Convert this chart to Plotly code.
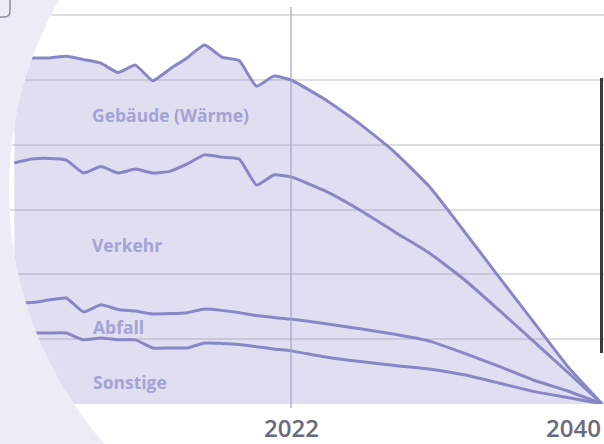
import numpy as np
import plotly.graph_objects as go

# Jahre: Ist-Werte bis 2022, danach Zielpfad bis 2040
years = list(range(2006, 2023)) + [2024, 2026, 2028, 2030, 2032, 2034, 2036, 2038, 2040]

# Emissionen je Sektor (gestapelt, von unten nach oben)
sonstige = [21.9, 21.9, 21.9, 21.9, 19.8, 20.4, 19.8, 19.8, 17.3, 17.3, 17.3, 18.8, 18.7, 18.4, 17.7, 17.0, 16.4,
            14.5, 13.1, 11.9, 10.8, 9.0, 6.5, 3.9, 2.0, 0.0]
abfall = [9.3, 9.4, 10.2, 10.8, 8.6, 10.2, 9.4, 8.9, 10.5, 10.6, 10.9, 10.5, 10.2, 9.8, 9.6, 9.7, 9.8,
          10.3, 10.1, 9.6, 8.6, 6.7, 5.2, 3.5, 2.0, 0.0]
verkehr = [43.2, 44.3, 43.7, 42.6, 42.9, 42.7, 42.1, 43.8, 43.5, 43.9, 45.9, 47.6, 47.3, 47.4, 40.3, 44.0, 43.9,
           40.9, 36.6, 31.6, 27.2, 22.8, 17.4, 12.1, 5.8, 0.0]
gebaeude = [32.1, 31.2, 31.0, 32.0, 35.0, 31.9, 31.0, 32.1, 28.5, 31.6, 32.8, 33.9, 30.9, 30.4, 30.5, 30.5, 29.9,
            28.2, 26.6, 24.6, 20.5, 14.9, 10.3, 6.0, 1.8, 0.0]

sectors = ["Sonstige", "Abfall", "Verkehr", "Gebäude (Wärme)"]
series = [sonstige, abfall, verkehr, gebaeude]

tick_years = [2022, 2040]
tick_labels = ["2022", "2040"]
marker_year = 2022

LINE = "#8787c6"
FILL = "rgba(140,140,205,0.28)"
LABEL = "#a3a3d5"
BG_OUT = "#ececf6"

W, H = 604, 444
M_B = 40
PLOT_H = H - M_B
X_RANGE = [2005.17, 2040.10]
Y_RANGE = [0, 124.7]

fig = go.Figure()
for name, vals in zip(sectors, series):
    fig.add_trace(go.Scatter(
        x=years, y=vals, name=name, mode="lines",
        stackgroup="emissionen",
        line=dict(color=LINE, width=3, shape="spline", smoothing=0.45),
        fillcolor=FILL,
        showlegend=False,
    ))

# Sektor-Beschriftungen innerhalb der Flächen
label_pos = [(2010.45, 6.8, "Sonstige"), (2010.45, 23.8, "Abfall"),
             (2010.4, 49.1, "Verkehr"), (2010.35, 89.2, "Gebäude (Wärme)")]
for lx, ly, txt in label_pos:
    fig.add_annotation(x=lx, y=ly, text=txt, showarrow=False, xanchor="left", yanchor="middle",
                       font=dict(family="Open Sans", size=17.5, color=LABEL, weight=700))

# Jahreszahlen unter der Achse
for ty, tl in zip(tick_years, tick_labels):
    fig.add_annotation(x=ty, y=0, yref="y", text=tl, showarrow=False,
                       xanchor="right" if ty == tick_years[-1] else "center",
                       yanchor="middle", yshift=-23, borderpad=0,
                       font=dict(family="Open Sans", size=24, color="#6a6a78", weight=600))

# Markierung des aktuellen Jahres
fig.add_shape(type="line", xref="x", yref="paper", x0=marker_year, x1=marker_year,
              y0=-0.01, y1=(PLOT_H - 7) / PLOT_H, line=dict(color="#a2a2c8", width=1.2), layer="above")


def to_paper(px, py):
    return px / W, (PLOT_H - py) / PLOT_H


# Hintergrund außerhalb des großen Kreises
cx, cy, r = 394.0, 190.0, 385.0
ys = np.linspace(-6, H + 6, 120)
xs = cx - np.sqrt(r ** 2 - (ys - cy) ** 2)
pts = [to_paper(-6, -6)] + [to_paper(x, y) for x, y in zip(xs, ys)] + [to_paper(-6, H + 6)]
path = "M " + " L ".join(f"{x:.5f},{y:.5f}" for x, y in pts) + " Z"
fig.add_shape(type="path", xref="paper", yref="paper", path=path,
              fillcolor=BG_OUT, line=dict(width=0), layer="above")

# Ecke eines abgerundeten Rahmens oben links
p0 = to_paper(-2, 17)
p1 = to_paper(4, 17)
c1 = to_paper(10, 17)
p2 = to_paper(10, 11)
p3 = to_paper(10, -2)
corner = (f"M {p0[0]:.5f},{p0[1]:.5f} L {p1[0]:.5f},{p1[1]:.5f} "
          f"Q {c1[0]:.5f},{c1[1]:.5f} {p2[0]:.5f},{p2[1]:.5f} L {p3[0]:.5f},{p3[1]:.5f}")
fig.add_shape(type="path", xref="paper", yref="paper", path=corner,
              line=dict(color="#8e8e9c", width=1.5), layer="above")

# Dunkler Rand rechts
b0 = to_paper(601.5, 78)
b1 = to_paper(601.5, 353)
fig.add_shape(type="line", xref="paper", yref="paper", x0=b0[0], x1=b1[0], y0=b0[1], y1=b1[1],
              line=dict(color="#3a3a3a", width=3), layer="above")

fig.update_xaxes(range=X_RANGE, showgrid=False, zeroline=False, showticklabels=False,
                 showline=False, ticks="")
fig.update_yaxes(range=Y_RANGE, tickvals=[0, 20, 40, 60, 80, 100, 120], showticklabels=False,
                 showgrid=True, gridcolor="rgba(150,150,150,0.3)", gridwidth=1.5,
                 zeroline=False, ticks="")

fig.update_layout(
    width=W, height=H,
    margin=dict(l=0, r=0, t=0, b=M_B),
    paper_bgcolor="white", plot_bgcolor="white",
)

fig.write_html("out.html")
